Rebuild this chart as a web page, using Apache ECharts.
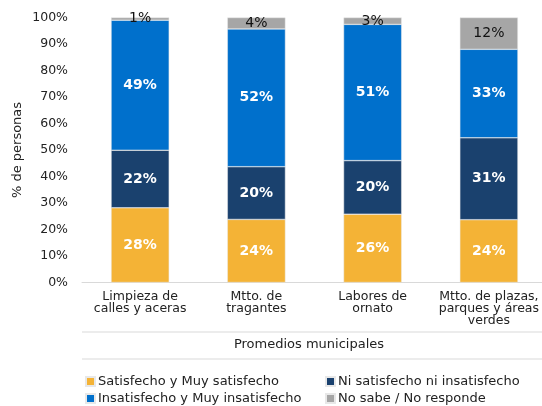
<!DOCTYPE html>
<html>
<head>
<meta charset="utf-8">
<script src="https://cdn.jsdelivr.net/npm/echarts@6/dist/echarts.min.js"></script>
<style>
  html, body { margin: 0; padding: 0; background: #fff; }
  #chart { width: 542px; height: 406px; }
</style>
</head>
<body>
<div id="chart"></div>
<script>
// categorias del eje x
const categories = [
  "Limpieza de\ncalles y aceras",
  "Mtto. de\ntragantes",
  "Labores de\nornato",
  "Mtto. de plazas,\nparques y áreas\nverdes"
];
const seriesNames = [
  "Satisfecho y Muy satisfecho",
  "Ni satisfecho ni insatisfecho",
  "Insatisfecho y Muy insatisfecho",
  "No sabe / No responde"
];
// porcentajes
const satisfecho = [28.2, 23.8, 25.8, 23.7];
const niNi = [21.7, 19.9, 20.2, 30.9];
const insatisfecho = [49.1, 52.0, 51.4, 33.4];
const noSabe = [1.0, 4.3, 2.6, 12.0];
const yTicks = [0, 10, 20, 30, 40, 50, 60, 70, 80, 90, 100];

const FONT = "DejaVu Sans";
const colors = ["#F4B336", "#1A416E", "#0070CC", "#A6A6A6"];

let myChart = echarts.init(document.getElementById("chart"));

function makeSeries(name, data, color, labelColor) {
  return {
    name: name,
    type: "bar",
    stack: "total",
    barWidth: "50%",
    data: data,
    itemStyle: { color: color, borderColor: "#e8e8e8", borderWidth: 0.5 },
    label: {
      show: true,
      position: "inside",
      color: labelColor,
      fontFamily: FONT,
      fontSize: 14,
      fontWeight: labelColor === "#fff" ? "bold" : "normal",
      formatter: (p) => Math.round(p.value) + "%"
    }
  };
}

function makeLegend(left, names) {
  return {
    left: left,
    top: 375,
    padding: 0,
    orient: "vertical",
    icon: "rect",
    itemWidth: 9,
    itemHeight: 9,
    itemGap: 4,
    data: names,
    textStyle: { color: "#222", fontFamily: FONT, fontSize: 13, lineHeight: 13, padding: [0, 0, 0, -2] }
  };
}

let option = {
  animation: false,
  color: colors,
  grid: {
    left: 82,
    width: 465,
    top: 17.5,
    bottom: 123.5,
    containLabel: false,
    outerBoundsMode: "none"
  },
  xAxis: {
    type: "category",
    data: categories,
    axisLine: { show: true, lineStyle: { color: "#d9d9d9", width: 1 } },
    axisTick: { show: false },
    axisLabel: {
      interval: 0,
      margin: 8,
      color: "#222",
      fontFamily: FONT,
      fontSize: 12.5,
      lineHeight: 12
    }
  },
  yAxis: {
    type: "value",
    min: yTicks[0],
    max: yTicks[yTicks.length - 1],
    interval: 10,
    name: "% de personas",
    nameLocation: "middle",
    nameGap: 58,
    nameMoveOverlap: false,
    nameTextStyle: { color: "#222", fontFamily: FONT, fontSize: 13 },
    axisLine: { show: false },
    axisTick: { show: false },
    splitLine: { show: false },
    axisLabel: {
      color: "#222",
      fontFamily: FONT,
      fontSize: 12.5,
      margin: 14,
      formatter: "{value}%"
    }
  },
  legend: [
    makeLegend(85, [seriesNames[0], seriesNames[2]]),
    makeLegend(325, [seriesNames[1], seriesNames[3]])
  ],
  graphic: [
    { type: "line", shape: { x1: 82, y1: 332, x2: 542, y2: 332 }, style: { stroke: "#d9d9d9", lineWidth: 1 } },
    { type: "line", shape: { x1: 82, y1: 359, x2: 542, y2: 359 }, style: { stroke: "#d9d9d9", lineWidth: 1 } },
    {
      type: "text",
      x: 309,
      y: 345,
      style: {
        text: "Promedios municipales",
        fill: "#222",
        font: "13px " + FONT,
        textAlign: "center",
        textVerticalAlign: "middle"
      }
    }
  ],
  series: [
    makeSeries(seriesNames[0], satisfecho, colors[0], "#fff"),
    makeSeries(seriesNames[1], niNi, colors[1], "#fff"),
    makeSeries(seriesNames[2], insatisfecho, colors[2], "#fff"),
    makeSeries(seriesNames[3], noSabe, colors[3], "#111")
  ]
};

myChart.setOption(option);
</script>
</body>
</html>
